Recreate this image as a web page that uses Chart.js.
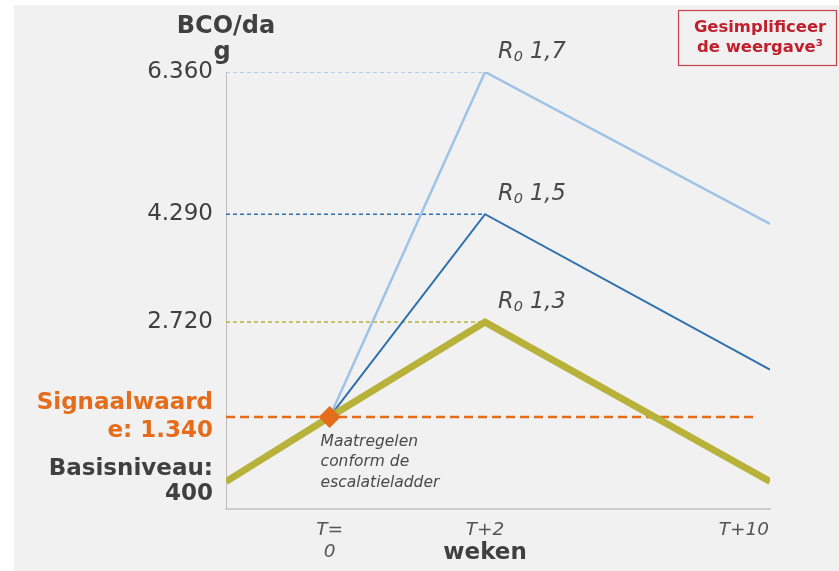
<!DOCTYPE html>
<html>
<head>
<meta charset="utf-8">
<script src="https://cdn.jsdelivr.net/npm/chart.js@4/dist/chart.umd.min.js"></script>
<style>
  html, body { margin: 0; padding: 0; background: #fff; }
  #wrap { position: relative; width: 839px; height: 571px; }
</style>
</head>
<body>
<div id="wrap"><canvas id="chart"></canvas></div>
<script>
// schematic horizontal slots: start, T=0, T+2, T+10 (not to scale in weeks)
const xPositions = [0, 1, 2.5, 5.25];
const xLabels = [null, ['T=', '0'], 'T+2', 'T+10'];

// BCO per day
const r13 = [400, 1340, 2720, 400];
const r15 = [null, 1340, 4290, 2030];
const r17 = [null, 1340, 6360, 4150];

const signaalwaarde = 1340;
const signaalLineEnd = 5.13;
const yTicks = [400, 1340, 2720, 4290, 6360];

const ORANGE = '#e46c1a';
const OLIVE = '#b8b23a';
const LIGHT = '#9dc3e6';
const DARK = '#2e6fad';
const TEXT = '#404040';
const FONT = "'DejaVu Sans', Verdana, sans-serif";

const series = [
    { name: '1,7', values: r17, color: LIGHT, width: 2.5, order: 3 },
    { name: '1,5', values: r15, color: DARK, width: 2, order: 2 },
    { name: '1,3', values: r13, color: OLIVE, width: 7, order: 1 },
];

const pts = (vals) => vals.map((v, i) => ({ x: xPositions[i], y: v }));

const datasets = [];
// dashed guide from the axis to each peak
series.forEach((s) => {
    datasets.push({
        data: [{ x: xPositions[0], y: s.values[2] }, { x: xPositions[2], y: s.values[2] }],
        borderColor: s.color, borderWidth: 1.5, borderDash: [4, 3],
        pointRadius: 0, order: 6,
    });
});
datasets.push({
    data: [{ x: xPositions[0], y: signaalwaarde }, { x: signaalLineEnd, y: signaalwaarde }],
    borderColor: ORANGE, borderWidth: 2.5, borderDash: [9, 5],
    pointRadius: 0, order: 5,
});
series.forEach((s) => {
    datasets.push({
        data: pts(s.values),
        borderColor: s.color, borderWidth: s.width,
        pointRadius: 0, tension: 0, order: s.order,
    });
});
datasets.push({
    data: [{ x: xPositions[1], y: signaalwaarde }],
    showLine: false, pointStyle: 'rectRot', pointRadius: 11,
    backgroundColor: ORANGE, borderColor: ORANGE, borderWidth: 0, order: 0,
});

const tickLabel = (v) => {
    if (v === signaalwaarde) return ['Signaalwaard', 'e: 1.340'];
    if (v === 400) return ['Basisniveau:', '400'];
    return v.toLocaleString('nl-NL');
};

const decor = {
    id: 'decor',
    beforeDraw(chart) {
        const c = chart.ctx;
        c.save();
        c.fillStyle = '#f1f1f1';
        c.fillRect(14, 5, chart.width - 14, chart.height - 5);
        c.restore();
    },
    afterDraw(chart) {
        const c = chart.ctx;
        const xs = chart.scales.x, ys = chart.scales.y;
        c.save();
        c.textBaseline = 'middle';

        // y title
        c.fillStyle = TEXT;
        c.font = `bold 24px ${FONT}`;
        c.textAlign = 'center';
        c.fillText('BCO/da', ys.right, 27);
        c.fillText('g', ys.right - 4, 53);

        // R0 labels
        series.forEach((s) => {
            let x = xs.getPixelForValue(xPositions[2]) + 13;
            const y = ys.getPixelForValue(s.values[2]) - 20;
            c.textAlign = 'left';
            c.fillStyle = '#4a4a4a';
            c.font = `italic 22.5px ${FONT}`;
            c.fillText('R', x, y);
            x += c.measureText('R').width;
            c.font = `italic 14.5px ${FONT}`;
            c.fillText('0', x, y + 5);
            x += c.measureText('0').width;
            c.font = `italic 22.5px ${FONT}`;
            c.fillText(' ' + s.name, x, y);
        });

        // annotation
        const dx = xs.getPixelForValue(xPositions[1]);
        const dy = ys.getPixelForValue(signaalwaarde);
        c.font = `italic 15.5px ${FONT}`;
        c.fillStyle = '#4a4a4a';
        c.textAlign = 'left';
        ['Maatregelen', 'conform de', 'escalatieladder'].forEach((t, i) => {
            c.fillText(t, dx - 9, dy + 25 + i * 20.5);
        });

        // x tick labels
        c.font = `italic 18.5px ${FONT}`;
        c.fillStyle = '#555';
        xLabels.forEach((lab, i) => {
            if (!lab) return;
            const px = xs.getPixelForValue(xPositions[i]);
            const lines = Array.isArray(lab) ? lab : [lab];
            const last = i === xLabels.length - 1;
            c.textAlign = last ? 'right' : 'center';
            lines.forEach((t, j) => c.fillText(t, last ? px - 1 : px, xs.top + 21 + j * 22));
        });
        c.font = `bold 23px ${FONT}`;
        c.fillStyle = TEXT;
        c.textAlign = 'center';
        c.fillText('weken', xs.getPixelForValue(xPositions[2]), 553);

        // note box
        c.strokeStyle = '#c9434b';
        c.lineWidth = 1.2;
        c.strokeRect(678.5, 10.5, 158, 55);
        c.fillStyle = '#c0202d';
        c.font = `bold 16.4px ${FONT}`;
        c.fillText('Gesimplificeer', 760, 28);
        c.fillText('de weergave³', 760, 48);
        c.restore();
    },
};

const tickValue = (ctx) => (ctx && ctx.tick ? ctx.tick.value : null);

new Chart(document.getElementById('chart'), {
    type: 'line',
    data: { datasets },
    options: {
        responsive: true,
        maintainAspectRatio: false,
        animation: false,
        layout: { padding: { top: 72, right: 69, left: 0, bottom: 0 } },
        plugins: { legend: { display: false }, tooltip: { enabled: false } },
        scales: {
            x: {
                type: 'linear',
                min: xPositions[0],
                max: xPositions[xPositions.length - 1],
                grid: { display: false },
                border: { color: '#cfcfcf', width: 2 },
                ticks: { display: false },
                afterFit: (s) => { s.height = 62; },
            },
            y: {
                min: 0,
                max: 6360,
                grid: { display: false, drawTicks: false },
                border: { color: '#bdbdbd', width: 1 },
                afterBuildTicks: (s) => { s.ticks = yTicks.map((v) => ({ value: v })); },
                afterFit: (s) => { s.width = 226; },
                ticks: {
                    autoSkip: false,
                    padding: 13,
                    callback: (v) => tickLabel(v),
                    color: (ctx) => tickValue(ctx) === signaalwaarde ? ORANGE : TEXT,
                    font: (ctx) => {
                        const v = tickValue(ctx);
                        if (v === signaalwaarde) return { family: FONT, size: 23, weight: 'bold', lineHeight: 1.22 };
                        if (v === 400) return { family: FONT, size: 23, weight: 'bold', lineHeight: 1.1 };
                        return { family: FONT, size: 23 };
                    },
                },
            },
        },
    },
    plugins: [decor],
});
</script>
</body>
</html>
